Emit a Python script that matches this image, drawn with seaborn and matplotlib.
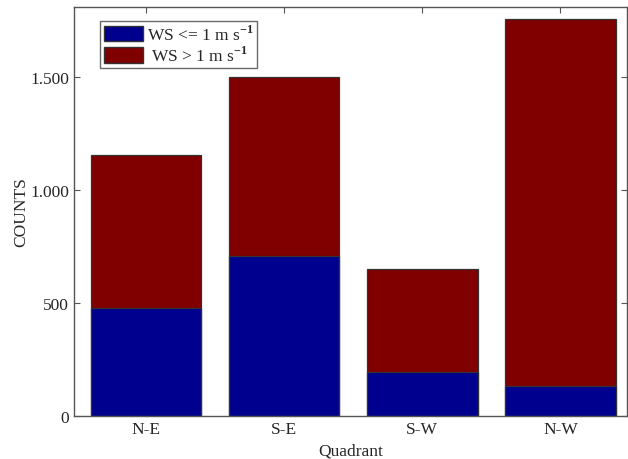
import matplotlib
matplotlib.use("Agg")
import matplotlib.pyplot as plt
import matplotlib.ticker as mticker
from matplotlib.patches import Patch
import pandas as pd
import seaborn as sns

quadrants = ["N-E", "S-E", "S-W", "N-W"]
counts_low = [478, 708, 192, 133]       # WS <= 1 m/s
counts_total = [1155, 1500, 650, 1757]  # all counts

sns.set_style("white")
plt.rcParams["font.family"] = ["Liberation Serif", "DejaVu Serif"]
plt.rcParams["mathtext.fontset"] = "custom"
plt.rcParams["mathtext.rm"] = "Liberation Serif"
plt.rcParams["mathtext.bf"] = "Liberation Serif:bold"

df = pd.DataFrame({"Quadrant": quadrants, "low": counts_low, "total": counts_total})

blue = "#00008F"
red = "#800000"

fig = plt.figure(figsize=(6.28, 4.6), dpi=100)
ax = fig.add_axes([0.118, 0.094, 0.880, 0.889])

sns.barplot(data=df, x="Quadrant", y="total", color=red, width=0.8,
            edgecolor="#333333", linewidth=0.9, saturation=1, ax=ax)
sns.barplot(data=df, x="Quadrant", y="low", color=blue, width=0.8,
            edgecolor="#333333", linewidth=0.9, saturation=1, ax=ax)

ax.set_xlim(-0.52, 3.48)
ax.set_ylim(0, 1810)
ax.set_yticks([0, 500, 1000, 1500])
ax.yaxis.set_major_formatter(mticker.FuncFormatter(lambda v, p: f"{int(v):,}".replace(",", ".")))
ax.set_xlabel("Quadrant", fontsize=12.5)
ax.set_ylabel("COUNTS", fontsize=12.5, labelpad=1)

ax.tick_params(direction="in", length=4, width=0.8, color="#555555",
               top=True, right=True, left=True, bottom=True, labelsize=12.5)
ax.tick_params(axis="y", labelright=False)
for s in ax.spines.values():
    s.set_visible(True)
    s.set_color("#555555")
    s.set_linewidth(1.0)

handles = [Patch(facecolor=blue, edgecolor="#333333", label=r"WS <= 1 m s$^{\mathbf{-1}}$"),
           Patch(facecolor=red, edgecolor="#333333", label=r" WS > 1 m s$^{\mathbf{-1}}$")]
leg = ax.legend(handles=handles, loc="upper left", bbox_to_anchor=(0.047, 0.966),
                fontsize=12.5, frameon=True, fancybox=False, borderpad=0.2,
                handlelength=2.3, handleheight=1.0, handletextpad=0.2,
                labelspacing=0.12, borderaxespad=0)
leg.get_frame().set_edgecolor("#444444")
leg.get_frame().set_linewidth(1.0)

fig.savefig("out.png", dpi=100)
